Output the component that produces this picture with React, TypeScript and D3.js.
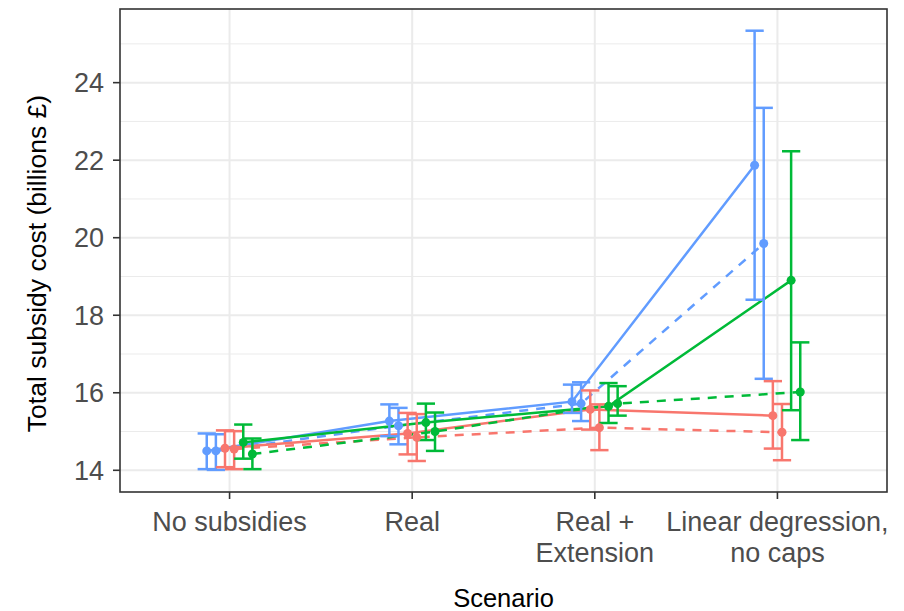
import React from 'react';
import * as d3 from 'd3';

const scenarios = ['No subsidies', 'Real', 'Real + Extension', 'Linear degression, no caps'];
const scenarioLines = [['No subsidies'], ['Real'], ['Real +', 'Extension'], ['Linear degression,', 'no caps']];

// series in dodge order
const seriesNames = ['blue solid', 'blue dashed', 'red solid', 'red dashed', 'green solid', 'green dashed'];
const seriesColors = ['#619CFF', '#619CFF', '#F8766D', '#F8766D', '#00BA38', '#00BA38'];
const seriesDashed = [false, true, false, true, false, true];

const meanValues = [
  [14.50, 15.27, 15.77, 21.87],
  [14.50, 15.15, 15.72, 19.85],
  [14.57, 14.95, 15.57, 15.41],
  [14.55, 14.85, 15.10, 14.98],
  [14.72, 15.23, 15.65, 18.90],
  [14.42, 15.00, 15.72, 16.02],
];
const lowValues = [
  [14.03, 14.88, 15.48, 18.40],
  [14.01, 14.67, 15.27, 16.36],
  [14.08, 14.41, 15.05, 14.56],
  [14.03, 14.24, 14.52, 14.26],
  [14.30, 14.78, 15.22, 15.55],
  [14.03, 14.50, 15.41, 14.78],
];
const highValues = [
  [14.95, 15.70, 16.21, 25.34],
  [14.93, 15.61, 16.27, 23.35],
  [15.03, 15.48, 16.06, 16.30],
  [15.01, 15.45, 15.70, 15.71],
  [15.18, 15.72, 16.25, 22.23],
  [14.82, 15.49, 16.17, 17.30],
];

const yTicks = [14, 16, 18, 20, 22, 24];
const yMinor = [15, 17, 19, 21, 23, 25];

const W = 904;
const H = 611;
const left = 120;
const right = 887;
const top = 9;
const bottom = 492;
const font = '"Liberation Sans", Arial, sans-serif';

const App = () => {
  const x = d3.scalePoint<string>().domain(scenarios).range([left, right]).padding(0.6);
  const y = d3.scaleLinear().domain([13.44, 25.9]).range([bottom, top]);
  const step = x.step();
  const dodge = (i: number) => (i - (seriesNames.length - 1) / 2) * 0.05 * step;
  const capHalf = 0.05 * step;

  const line = d3.line<[number, number]>().x(d => d[0]).y(d => d[1]);

  return (
    <svg width={W} height={H} style={{ display: 'block', position: 'absolute', left: 0, top: 0 }}>
      <rect x={0} y={0} width={W} height={H} fill="#fff" />
      {/* grid */}
      {yMinor.map(t => (
        <line key={'mn' + t} x1={left} x2={right} y1={y(t)} y2={y(t)} stroke="#EBEBEB" strokeWidth={1} />
      ))}
      {yTicks.map(t => (
        <line key={'mj' + t} x1={left} x2={right} y1={y(t)} y2={y(t)} stroke="#EBEBEB" strokeWidth={2} />
      ))}
      {scenarios.map(s => (
        <line key={'vx' + s} x1={x(s)} x2={x(s)} y1={top} y2={bottom} stroke="#EBEBEB" strokeWidth={2} />
      ))}

      {/* lines */}
      {seriesNames.map((name, i) => (
        <path
          key={'ln' + name}
          d={line(scenarios.map((s, j) => [x(s)! + dodge(i), y(meanValues[i][j])]))!}
          fill="none"
          stroke={seriesColors[i]}
          strokeWidth={2.5}
          strokeDasharray={seriesDashed[i] ? '9,8' : undefined}
        />
      ))}

      {/* error bars */}
      {seriesNames.map((name, i) =>
        scenarios.map((s, j) => {
          const cx = x(s)! + dodge(i);
          return (
            <g key={'eb' + name + s} stroke={seriesColors[i]} strokeWidth={2.5}>
              <line x1={cx} x2={cx} y1={y(lowValues[i][j])} y2={y(highValues[i][j])} />
              <line x1={cx - capHalf} x2={cx + capHalf} y1={y(lowValues[i][j])} y2={y(lowValues[i][j])} />
              <line x1={cx - capHalf} x2={cx + capHalf} y1={y(highValues[i][j])} y2={y(highValues[i][j])} />
            </g>
          );
        })
      )}

      {/* points */}
      {seriesNames.map((name, i) =>
        scenarios.map((s, j) => (
          <circle key={'pt' + name + s} cx={x(s)! + dodge(i)} cy={y(meanValues[i][j])} r={4.5} fill={seriesColors[i]} />
        ))
      )}

      {/* panel border */}
      <rect x={left} y={top} width={right - left} height={bottom - top} fill="none" stroke="#333333" strokeWidth={1.6} />

      {/* y axis */}
      {yTicks.map(t => (
        <g key={'yt' + t}>
          <line x1={left - 7} x2={left} y1={y(t)} y2={y(t)} stroke="#333333" strokeWidth={1.6} />
          <text x={left - 16} y={y(t)} dy="0.36em" textAnchor="end" fontSize={27} fill="#4D4D4D" fontFamily={font}>
            {t}
          </text>
        </g>
      ))}
      <text
        transform={`translate(46, ${(top + bottom) / 2 + 13}) rotate(-90)`}
        textAnchor="middle"
        fontSize={26.5}
        fill="#000"
        fontFamily={font}
      >
        Total subsidy cost (billions £)
      </text>

      {/* x axis */}
      {scenarios.map((s, j) => (
        <g key={'xt' + s}>
          <line x1={x(s)} x2={x(s)} y1={bottom} y2={bottom + 7} stroke="#333333" strokeWidth={1.6} />
          {scenarioLines[j].map((ln, k) => (
            <text key={ln} x={x(s)} y={531 + k * 31} textAnchor="middle" fontSize={27} fill="#4D4D4D" fontFamily={font}>
              {ln}
            </text>
          ))}
        </g>
      ))}
      <text x={(left + right) / 2} y={607} textAnchor="middle" fontSize={25.5} fill="#000" fontFamily={font}>
        Scenario
      </text>
    </svg>
  );
};

export default App;
